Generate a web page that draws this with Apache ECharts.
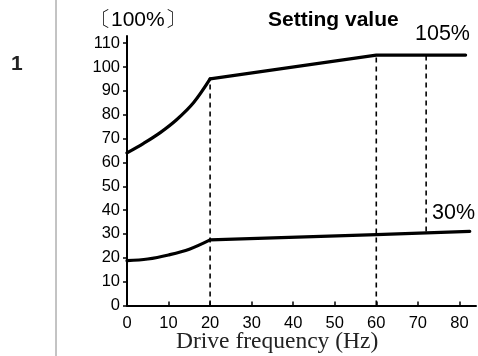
<!DOCTYPE html>
<html>
<head>
<meta charset="utf-8">
<script src="https://cdn.jsdelivr.net/npm/echarts@6/dist/echarts.min.js"></script>
<style>
  html, body { margin: 0; padding: 0; background: #fff; }
  #chart { width: 478px; height: 356px; }
</style>
</head>
<body>
<div id="chart"></div>
<script>
// Upper limit curve (% of rated): rising bend up to 20 Hz, then straight runs
const upperBendFreq = [0, 4, 8, 12, 16, 20];
const upperBendValue = [64, 68, 72.5, 78, 85, 95];
const upperLineFreq = [20, 60, 81.5];
const upperLineValue = [95, 105, 105];

// Lower limit curve
const lowerBendFreq = [0, 5, 10, 15, 20];
const lowerBendValue = [18.8, 19.5, 21.2, 23.6, 27.5];
const lowerLineFreq = [20, 60, 82.5];
const lowerLineValue = [27.5, 29.7, 31.1];

// Dashed guide lines: [frequency, from value, to value]
const guides = [
  [20, 0, 95],
  [60, 0, 105],
  [72, 31, 105]
];

const xTicks = [0, 10, 20, 30, 40, 50, 60, 70, 80];
const yTicks = [0, 10, 20, 30, 40, 50, 60, 70, 80, 90, 100, 110];

const pairs = (xs, ys) => xs.map((x, i) => [x, ys[i]]);

const sans = 'Liberation Sans, Arial, sans-serif';
const labelFont = { color: '#000', fontSize: 16.5, fontFamily: sans };
const curveStyle = { color: '#000', width: 3.2, cap: 'round', join: 'round' };

const series = [
  { type: 'line', data: pairs(upperBendFreq, upperBendValue), smooth: 0.35, showSymbol: false, lineStyle: curveStyle, z: 5 },
  { type: 'line', data: pairs(upperLineFreq, upperLineValue), showSymbol: false, lineStyle: curveStyle, z: 5 },
  { type: 'line', data: pairs(lowerBendFreq, lowerBendValue), smooth: 0.35, showSymbol: false, lineStyle: curveStyle, z: 5 },
  { type: 'line', data: pairs(lowerLineFreq, lowerLineValue), showSymbol: false, lineStyle: curveStyle, z: 5 }
];
guides.forEach(g => {
  series.push({
    type: 'line', data: [[g[0], g[1]], [g[0], g[2]]], showSymbol: false,
    lineStyle: { color: '#000', width: 1.6, type: [5, 4] }, z: 3
  });
});

const chart = echarts.init(document.getElementById('chart'), null, { renderer: 'canvas' });
chart.setOption({
  animation: false,
  backgroundColor: '#fff',
  grid: { left: 127, right: 2, top: 36, bottom: 50.5 },
  xAxis: {
    type: 'value', min: 0, max: 84, interval: 10,
    axisLine: { lineStyle: { color: '#000', width: 2 } },
    axisTick: { inside: true, length: 4, lineStyle: { color: '#000', width: 1.5 } },
    axisLabel: {
      ...labelFont, margin: 9, showMaxLabel: false,
      formatter: v => (xTicks.includes(v) ? String(v) : '')
    },
    splitLine: { show: false }
  },
  yAxis: {
    type: 'value', min: 0, max: 113, interval: 10,
    axisLine: { show: true, lineStyle: { color: '#000', width: 2 } },
    axisTick: { show: true, length: 4, lineStyle: { color: '#000', width: 1.5 } },
    axisLabel: {
      ...labelFont, margin: 7, showMaxLabel: false,
      formatter: v => (yTicks.includes(v) ? String(v) : '')
    },
    splitLine: { show: false }
  },
  series: series,
  graphic: [
    { type: 'line', shape: { x1: 56, y1: 0, x2: 56, y2: 356 }, style: { stroke: '#888', lineWidth: 1 } },
    { type: 'text', left: 11, top: 54, style: { text: '1', fontSize: 21, fontWeight: 'bold', fill: '#222', fontFamily: sans } },
    { type: 'text', left: 90, top: 10, style: { text: '〔100%〕', fontSize: 21, fill: '#000', fontFamily: sans } },
    { type: 'text', left: 268, top: 10, style: { text: 'Setting value', fontSize: 21, fontWeight: 'bold', fill: '#000', fontFamily: sans } },
    { type: 'text', left: 415, top: 23, style: { text: '105%', fontSize: 21.5, fill: '#000', fontFamily: sans } },
    { type: 'text', left: 432, top: 202, style: { text: '30%', fontSize: 21.5, fill: '#000', fontFamily: sans } },
    { type: 'text', left: 176, top: 330, style: { text: 'Drive frequency (Hz)', fontSize: 23.5, fill: '#222', fontFamily: 'Liberation Serif, Times New Roman, serif' } }
  ]
});
</script>
</body>
</html>
